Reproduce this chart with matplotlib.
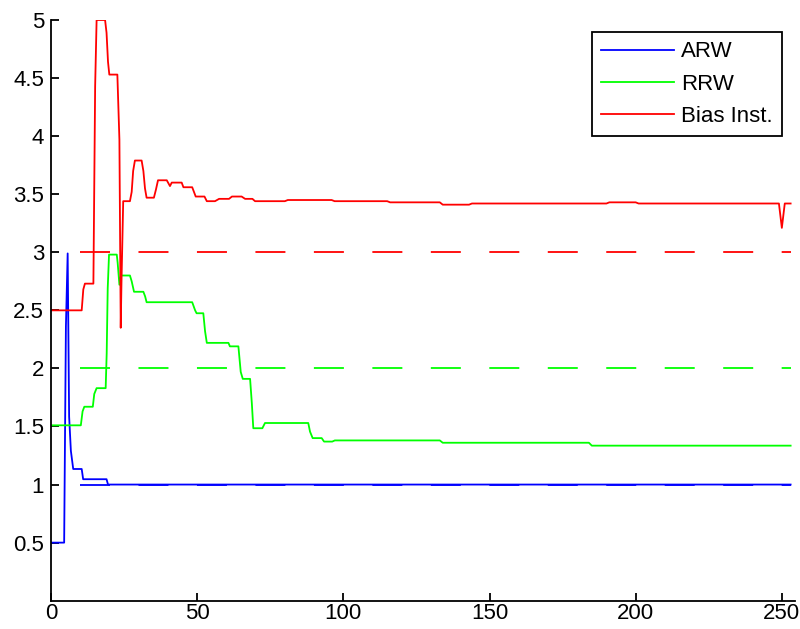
"""Noise parameter estimates (ARW, RRW, bias instability) vs sample."""
import numpy as np
import matplotlib
matplotlib.use('Agg')
import matplotlib.pyplot as plt

# estimate curves: vertices
arw_x = [0, 4.5, 5.1, 5.7, 6.2, 6.8, 7.6, 10.5, 11.0, 19.0, 19.5, 253]
arw_y = [0.5, 0.5, 2.36, 2.99, 1.585, 1.29, 1.134, 1.134, 1.046, 1.046, 1.0, 1.0]

rrw_x = [0, 10.2, 10.8, 11.4, 14.3, 14.8, 15.6, 18.7, 19.05, 19.4, 19.85, 22.5,
         22.8, 23.4, 23.95, 27.0, 27.6, 28.4, 31.6, 32.2, 32.7, 48.3, 49.3,
         49.8, 52.1, 52.7, 53.3, 60.7, 61.2, 64.1, 64.9, 65.6, 68.1, 68.7,
         69.2, 72.3, 73.2, 88.0, 88.6, 89.5, 92.6, 93.4, 96.2, 97.1, 133, 134,
         184, 185, 253]
rrw_y = [1.51, 1.51, 1.63, 1.67, 1.67, 1.78, 1.83, 1.83, 2.13, 2.69, 2.98, 2.98,
         2.91, 2.72, 2.80, 2.80, 2.75, 2.66, 2.66, 2.62, 2.57, 2.57, 2.50,
         2.475, 2.475, 2.32, 2.22, 2.22, 2.19, 2.19, 1.97, 1.91, 1.91, 1.70,
         1.485, 1.485, 1.53, 1.53, 1.456, 1.40, 1.40, 1.37, 1.37, 1.38, 1.38, 1.36,
         1.36, 1.335, 1.335]

bias_x = [0, 10.5, 11.05, 11.6, 14.5, 14.7, 15.1, 15.6, 18.5, 19.0, 19.5, 19.95,
          22.7, 23.4, 23.85, 24.1, 24.7, 27.0, 27.6, 28.1, 28.7, 31.0, 31.6,
          32.15, 32.7, 35.2, 35.9, 36.6, 39.6, 40.7, 41.3, 44.7, 45.3, 48.3,
          49.5, 52.5, 53.3, 56.1, 57.5, 60.9, 61.9, 65.2, 66.4, 68.9, 69.8,
          80, 81, 96, 97, 115, 116, 133, 134, 143, 144, 190, 191, 200, 201,
          249, 250, 251, 253]
bias_y = [2.50, 2.50, 2.68, 2.73, 2.73, 3.29, 4.43, 5.0, 5.0, 4.89, 4.64, 4.53,
          4.53, 3.97, 2.35, 2.73, 3.44, 3.44, 3.52, 3.70, 3.79, 3.79, 3.70,
          3.55, 3.47, 3.47, 3.54, 3.62, 3.62, 3.57, 3.60, 3.60, 3.56, 3.56,
          3.48, 3.48, 3.44, 3.44, 3.46, 3.46, 3.48, 3.48, 3.46, 3.46, 3.44,
          3.44, 3.45, 3.45, 3.44, 3.44, 3.43, 3.43, 3.41, 3.41, 3.42, 3.42, 3.43,
          3.43, 3.42, 3.42, 3.21, 3.42, 3.42]

# true values (dashed reference lines)
ref_x = [10, 253]
arw_true = 1.0
rrw_true = 2.0
bias_true = 3.0

labels = ['ARW', 'RRW', 'Bias Inst.']
colors = ['#0000ff', '#00ff00', '#ff0000']

plt.rcParams['font.family'] = ['Liberation Sans', 'DejaVu Sans']
plt.rcParams['lines.scale_dashes'] = False

fig = plt.figure(figsize=(8, 6.29), dpi=100)
ax = fig.add_axes([0.06375, 0.045, 0.93, 0.9232])

lw = 1.3
dash = (21.6, 20.5)
for t, c in zip([arw_true, rrw_true, bias_true], colors):
    ax.plot(ref_x, [t, t], color=c, lw=lw, dashes=dash)
for x, y, c, lab in zip([arw_x, rrw_x, bias_x], [arw_y, rrw_y, bias_y], colors, labels):
    ax.plot(x, y, color=c, lw=lw, label=lab)

ax.set_xlim(0, 254.5)
ax.set_ylim(0, 5)
ax.set_xticks([0, 50, 100, 150, 200, 250])
ax.set_yticks(np.arange(0.5, 5.01, 0.5))
ax.set_yticklabels(['0.5', '1', '1.5', '2', '2.5', '3', '3.5', '4', '4.5', '5'])
ax.spines['top'].set_visible(False)
ax.spines['right'].set_visible(False)
for s in ['left', 'bottom']:
    ax.spines[s].set_linewidth(1.3)
ax.tick_params(direction='in', length=6, width=1.3, labelsize=16)
ax.tick_params(axis='x', pad=2)
ax.tick_params(axis='y', pad=5)

leg = ax.legend(loc='upper right', bbox_to_anchor=(0.9775, 0.949),
                bbox_transform=fig.transFigure, fontsize=16, fancybox=False,
                framealpha=1, edgecolor='black', handlelength=3.3,
                handletextpad=0.3, labelspacing=0.5, borderpad=0.42,
                borderaxespad=0)
leg.get_frame().set_linewidth(1.3)

fig.savefig('out.png', dpi=100)
